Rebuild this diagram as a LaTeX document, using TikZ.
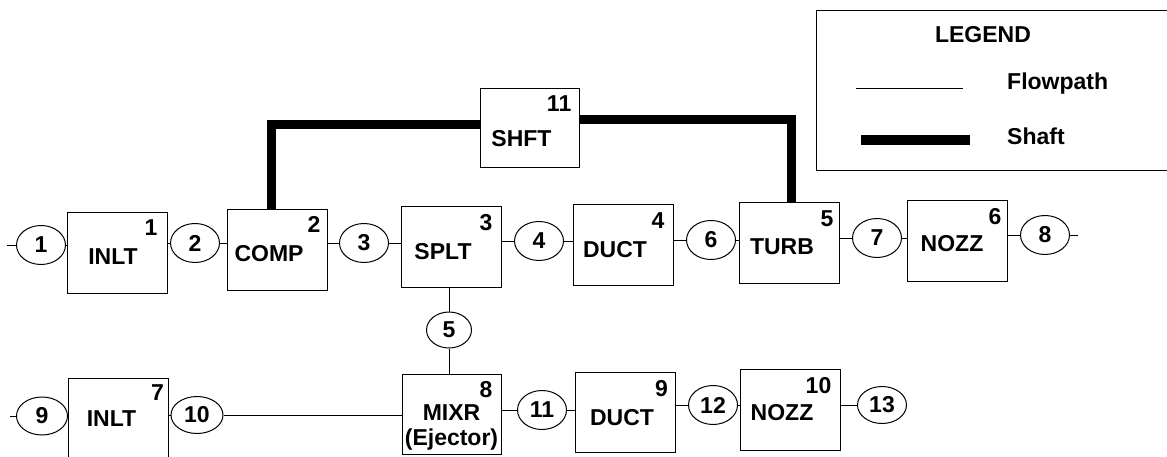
\documentclass[tikz,border=0pt]{standalone}
\usepackage{fontspec}
\setmainfont{Liberation Sans}
\usetikzlibrary{shapes.geometric,calc}
\begin{document}
\begin{tikzpicture}[x=1pt,y=-1pt,
  blk/.style={draw, line width=1pt, minimum width=100pt, minimum height=81pt, inner sep=0pt},
  stn/.style={draw, ellipse, line width=1pt, minimum width=49pt, minimum height=39pt, inner sep=0pt, font=\fontsize{23}{24}\bfseries\selectfont},
  txt/.style={inner sep=0pt, font=\fontsize{23}{20}\bfseries\selectfont},
  num/.style={txt, anchor=east},
  flow/.style={line width=1pt},
  shaft/.style={line width=9pt, line join=miter, line cap=butt}]
\useasboundingbox (0,0) rectangle (1167,456);

% ---------- top row boxes ----------
\node[blk] (b1) at (117,252.5) {};
\node[blk] (b2) at (277,249.5) {};
\node[blk] (b3) at (451,247) {};
\node[blk] (b4) at (623,245) {};
\node[blk] (b5) at (789,242.5) {};
\node[blk] (b6) at (957,240.5) {};
\node[blk, minimum width=99pt, minimum height=79pt] (sh) at (529.5,127.5) {};
% ---------- bottom row boxes ----------
\node[blk] (b7) at (118.5,418.5) {};
\node[blk, minimum width=99pt, minimum height=80pt] (b8) at (451.5,414) {};
\node[blk, minimum height=80pt] (b9) at (625,412) {};
\node[blk] (b10) at (790,409.5) {};

% ---------- box labels ----------
\node[txt] (t1) at ($(b1)+(-4,4)$) {INLT};
\node[txt] (t2) at ($(b2)+(-8,4.5)$) {COMP};
\node[txt] (t3) at ($(b3)+(-8,5)$) {SPLT};
\node[txt] (t4) at ($(b4)+(-8,5)$) {DUCT};
\node[txt] (t5) at ($(b5)+(-7,4.5)$) {TURB};
\node[txt] (t6) at ($(b6)+(-5,3.5)$) {NOZZ};
\node[txt] (t11) at ($(sh)+(-8,11.5)$) {SHFT};
\node[txt] (t7) at ($(b7)+(-7,0)$) {INLT};
\node[txt] (t8a) at ($(b8)+(0,-1)$) {MIXR};
\node[txt] (t8b) at ($(b8)+(0,26)$) {(Ejector)};
\node[txt] (t9) at ($(b9)+(-3,5.5)$) {DUCT};
\node[txt] (t10) at ($(b10)+(-8,3)$) {NOZZ};

% ---------- element numbers ----------
\node[num] (n1) at ($(b1.north east)+(-10,16)$) {1};
\node[num] (n2) at ($(b2.north east)+(-7,16)$) {2};
\node[num] (n3) at ($(b3.north east)+(-9,17)$) {3};
\node[num] (n4) at ($(b4.north east)+(-9,17)$) {4};
\node[num] (n5) at ($(b5.north east)+(-6,17)$) {5};
\node[num] (n6) at ($(b6.north east)+(-6,17)$) {6};
\node[num] (n11) at ($(sh.north east)+(-8,16)$) {11};
\node[num] (n7) at ($(b7.north east)+(-5,15)$) {7};
\node[num] (n8) at ($(b8.north east)+(-9,16)$) {8};
\node[num] (n9) at ($(b9.north east)+(-7.5,17)$) {9};
\node[num] (n10) at ($(b10.north east)+(-9,17)$) {10};

% ---------- station ellipses ----------
\node[stn] (e1) at (41,245) {1};
\node[stn] (e2) at (195,243) {2};
\node[stn] (e3) at (364,243) {3};
\node[stn] (e4) at (539,241) {4};
\node[stn] (e6) at (711,240) {6};
\node[stn] (e7) at (877,238) {7};
\node[stn] (e8) at (1045,235) {8};
\node[stn, minimum width=45pt, minimum height=36pt] (e5) at (449,330) {5};
\node[stn, minimum width=51pt, minimum height=38pt] (e9) at (42,416) {9};
\node[stn, minimum width=52pt, minimum height=37pt] (e10) at (197,415) {10};
\node[stn] (e11) at (542,410) {11};
\node[stn] (e12) at (713,405) {12};
\node[stn, minimum height=37pt] (e13) at (882,405) {13};

\coordinate (in1) at (7,245);
\coordinate (out8) at (1078,235);
\coordinate (in9) at (10,416);

% ---------- flowpath connectors ----------
\draw[flow] (in1) -- (e1.west);
\draw[flow] (e1.east) -- (e1.east -| b1.west);
\draw[flow] (e2.west -| b1.east) -- (e2.west);
\draw[flow] (e2.east) -- (e2.east -| b2.west);
\draw[flow] (e3.west -| b2.east) -- (e3.west);
\draw[flow] (e3.east) -- (e3.east -| b3.west);
\draw[flow] (e4.west -| b3.east) -- (e4.west);
\draw[flow] (e4.east) -- (e4.east -| b4.west);
\draw[flow] (e6.west -| b4.east) -- (e6.west);
\draw[flow] (e6.east) -- (e6.east -| b5.west);
\draw[flow] (e7.west -| b5.east) -- (e7.west);
\draw[flow] (e7.east) -- (e7.east -| b6.west);
\draw[flow] (e8.west -| b6.east) -- (e8.west);
\draw[flow] (e8.east) -- (out8);

\draw[flow] (e5.north |- b3.south) -- (e5.north);
\draw[flow] (e5.south) -- (e5.south |- b8.north);

\draw[flow] (in9) -- (e9.west);
\draw[flow] (e9.east) -- (e9.east -| b7.west);
\draw[flow] (e10.west -| b7.east) -- (e10.west);
\draw[flow] (e10.east) -- (e10.east -| b8.west);
\draw[flow] (e11.west -| b8.east) -- (e11.west);
\draw[flow] (e11.east) -- (e11.east -| b9.west);
\draw[flow] (e12.west -| b9.east) -- (e12.west);
\draw[flow] (e12.east) -- (e12.east -| b10.west);
\draw[flow] (e13.west -| b10.east) -- (e13.west);

% ---------- shaft ----------
\draw[shaft] ($(b2.north)+(-6,0)$) |- ($(sh.west)+(0,-3.5)$);
\draw[shaft] ($(sh.east)+(0,-8.5)$) -| ($(b5.north)+(2,0)$);

% ---------- legend ----------
\draw[flow] (1167,10) -- (816,10) -- (816,170) -- (1167,170);
\node[txt] (lg) at (983,35) {LEGEND};
\coordinate (lfa) at (856,88);
\coordinate (lfb) at (963,88);
\draw[line width=0.8pt] (lfa) -- (lfb);
\node[txt, anchor=west] (lfp) at (1007,84) {Flowpath};
\coordinate (lsa) at (861,140);
\coordinate (lsb) at (970,140);
\draw[line width=10pt] (lsa) -- (lsb);
\node[txt, anchor=west] (lsh) at (1007,136) {Shaft};
\end{tikzpicture}
\end{document}
